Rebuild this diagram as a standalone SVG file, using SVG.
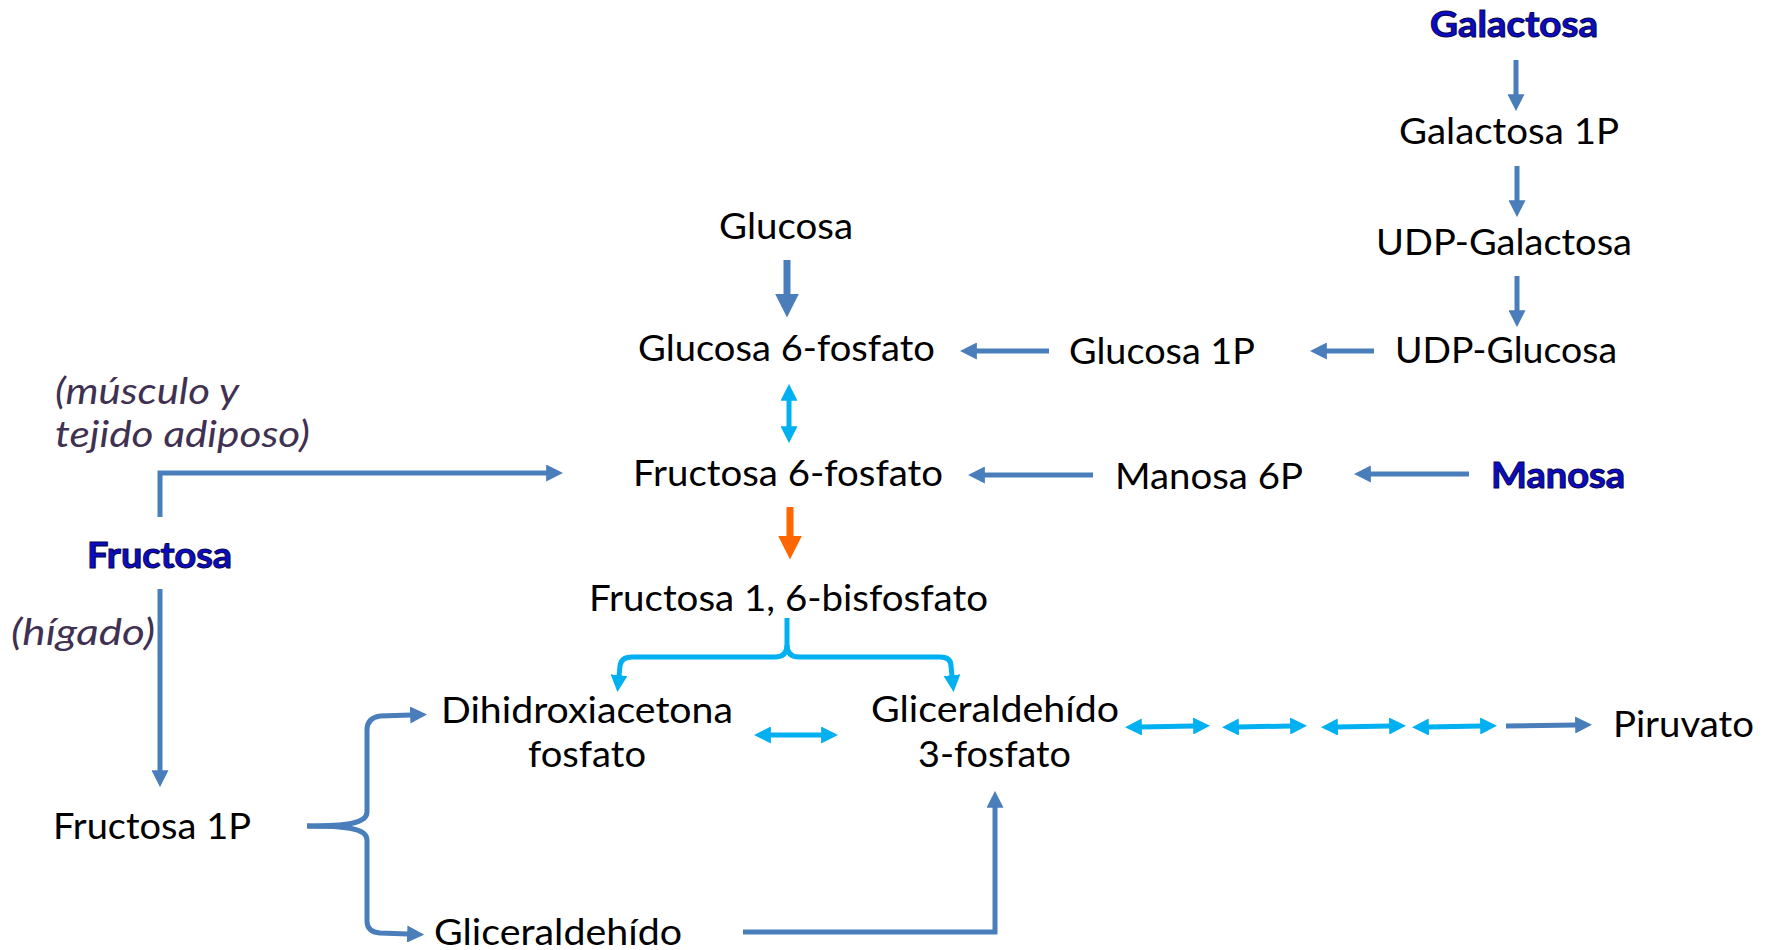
<svg xmlns="http://www.w3.org/2000/svg" width="1773" height="950" viewBox="0 0 1773 950">
  <style>
    .t { font-family: Lato, "Open Sans", "Liberation Sans", sans-serif; font-size: 37px; fill: #000; }
    .b { font-family: Lato, "Open Sans", "Liberation Sans", sans-serif; font-size: 37px; font-weight: bold; fill: #0c0cc8; stroke: #06064e; stroke-width: 1.1; }
    .i { font-family: Lato, "Open Sans", "Liberation Sans", sans-serif; font-size: 37px; font-style: italic; fill: #3f3151; }
    .blue { fill: none; stroke: #4a7ebb; stroke-width: 5; marker-end: url(#hb); }
    .cyan { fill: none; stroke: #00b0f0; stroke-width: 5; marker-end: url(#hc); }
    .dbl { fill: none; stroke: #00b0f0; stroke-width: 5; marker-start: url(#hc); marker-end: url(#hc); }
  </style>
  <defs>
    <marker id="hb" viewBox="0 0 10 10" refX="0.5" refY="5" markerWidth="3.4" markerHeight="3.4" orient="auto-start-reverse" markerUnits="strokeWidth">
      <path d="M0,0 L10,5 L0,10 z" fill="#4a7ebb"/>
    </marker>
    <marker id="hc" viewBox="0 0 10 10" refX="0.5" refY="5" markerWidth="3.4" markerHeight="3.4" orient="auto-start-reverse" markerUnits="strokeWidth">
      <path d="M0,0 L10,5 L0,10 z" fill="#00b0f0"/>
    </marker>
    <marker id="ho" viewBox="0 0 10 10" refX="0.5" refY="5" markerWidth="3.4" markerHeight="3.4" orient="auto-start-reverse" markerUnits="strokeWidth">
      <path d="M0,0 L10,5 L0,10 z" fill="#ff6600"/>
    </marker>
  </defs>
  <rect width="1773" height="950" fill="#fff"/>

  <!-- connectors -->
  <g id="connectors">
    <!-- galactose branch -->
    <line class="blue" x1="1516" y1="60" x2="1516" y2="95"/>
    <line class="blue" x1="1517" y1="166" x2="1517" y2="201"/>
    <line class="blue" x1="1517" y1="276" x2="1517" y2="311"/>
    <line class="blue" x1="1374" y1="351" x2="1326" y2="351"/>
    <line class="blue" x1="1049" y1="351" x2="976" y2="351"/>
    <!-- glucose -->
    <line class="blue" x1="787" y1="260" x2="787" y2="295" style="stroke-width:7"/>
    <line class="dbl" x1="789" y1="400" x2="789" y2="427"/>
    <!-- mannose branch -->
    <line class="blue" x1="1093" y1="475" x2="984" y2="475"/>
    <line class="blue" x1="1469" y1="474" x2="1370" y2="474"/>
    <!-- fructose branches -->
    <path class="blue" d="M160,517 V473 H547"/>
    <path class="blue" d="M160,589 V771"/>
    <!-- PFK step -->
    <line x1="790" y1="507" x2="790" y2="537" stroke="#ff6600" stroke-width="7" marker-end="url(#ho)"/>
    <!-- aldolase split -->
    <path class="cyan" d="M787,618 V645 Q787,657 775,657 H632 Q621,657 620,666 L619,676"/>
    <path class="cyan" d="M787,645 Q787,657 799,657 H940 Q951,657 951,666 L952,676"/>
    <line class="dbl" x1="770" y1="735" x2="822" y2="735"/>
    <!-- lower glycolysis -->
    <line class="dbl" x1="1141" y1="727" x2="1194" y2="726"/>
    <line class="dbl" x1="1238" y1="727" x2="1291" y2="726"/>
    <line class="dbl" x1="1337" y1="727" x2="1390" y2="726"/>
    <line class="dbl" x1="1428" y1="727" x2="1481" y2="726"/>
    <line class="blue" x1="1506" y1="726" x2="1576" y2="725"/>
    <!-- fructose 1P split -->
    <path class="blue" d="M307,826 C345,826 367,824 367,812 V730 Q367,718 380,716 L411,715"/>
    <path class="blue" d="M307,826 C345,826 367,828 367,840 V921 Q367,932 380,933 L408,934"/>
    <path class="blue" d="M743,932 H995 V807"/>
  </g>

  <g id="galactosa"><text class="b" x="1430" y="37" textLength="168" lengthAdjust="spacingAndGlyphs">Galactosa</text></g>
  <g id="galactosa-1p"><text class="t" x="1399" y="144" textLength="220" lengthAdjust="spacingAndGlyphs">Galactosa 1P</text></g>
  <g id="udp-galactosa"><text class="t" x="1376" y="255" textLength="256" lengthAdjust="spacingAndGlyphs">UDP-Galactosa</text></g>
  <g id="udp-glucosa"><text class="t" x="1395" y="363" textLength="222" lengthAdjust="spacingAndGlyphs">UDP-Glucosa</text></g>
  <g id="glucosa"><text class="t" x="719" y="239" textLength="134" lengthAdjust="spacingAndGlyphs">Glucosa</text></g>
  <g id="glucosa-6p"><text class="t" x="638" y="361" textLength="297" lengthAdjust="spacingAndGlyphs">Glucosa 6-fosfato</text></g>
  <g id="glucosa-1p"><text class="t" x="1069" y="364" textLength="186" lengthAdjust="spacingAndGlyphs">Glucosa 1P</text></g>
  <g id="fructosa-6p"><text class="t" x="633" y="486" textLength="310" lengthAdjust="spacingAndGlyphs">Fructosa 6-fosfato</text></g>
  <g id="manosa-6p"><text class="t" x="1115" y="489" textLength="188" lengthAdjust="spacingAndGlyphs">Manosa 6P</text></g>
  <g id="manosa"><text class="b" x="1491" y="488" textLength="134" lengthAdjust="spacingAndGlyphs">Manosa</text></g>
  <g id="nota-musculo">
    <text class="i" x="55" y="404" textLength="184" lengthAdjust="spacingAndGlyphs">(músculo y</text>
    <text class="i" x="55" y="447" textLength="255" lengthAdjust="spacingAndGlyphs">tejido adiposo)</text>
  </g>
  <g id="fructosa"><text class="b" x="87" y="568" textLength="145" lengthAdjust="spacingAndGlyphs">Fructosa</text></g>
  <g id="nota-higado"><text class="i" x="11" y="645" textLength="144" lengthAdjust="spacingAndGlyphs">(hígado)</text></g>
  <g id="fructosa-16bp"><text class="t" x="589" y="611" textLength="399" lengthAdjust="spacingAndGlyphs">Fructosa 1, 6-bisfosfato</text></g>
  <g id="dhap">
    <text class="t" x="441" y="723" textLength="292" lengthAdjust="spacingAndGlyphs">Dihidroxiacetona</text>
    <text class="t" x="528" y="767" textLength="118" lengthAdjust="spacingAndGlyphs">fosfato</text>
  </g>
  <g id="g3p">
    <text class="t" x="871" y="722" textLength="248" lengthAdjust="spacingAndGlyphs">Gliceraldehído</text>
    <text class="t" x="918" y="767" textLength="153" lengthAdjust="spacingAndGlyphs">3-fosfato</text>
  </g>
  <g id="piruvato"><text class="t" x="1613" y="737" textLength="141" lengthAdjust="spacingAndGlyphs">Piruvato</text></g>
  <g id="fructosa-1p"><text class="t" x="53" y="839" textLength="198" lengthAdjust="spacingAndGlyphs">Fructosa 1P</text></g>
  <g id="gliceraldehido"><text class="t" x="434" y="945" textLength="248" lengthAdjust="spacingAndGlyphs">Gliceraldehído</text></g>
</svg>
